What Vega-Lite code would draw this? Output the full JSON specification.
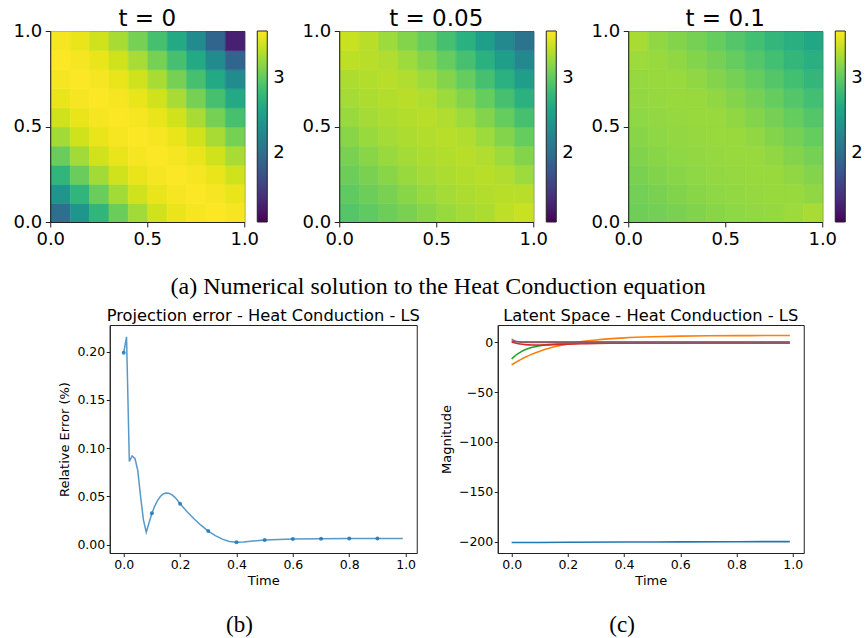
{
"$schema": "https://vega.github.io/schema/vega-lite/v6.json",
"background": "white",
"padding": {"left": 12, "top": 7, "right": 0, "bottom": 0},
"config": {
  "font": "DejaVu Sans",
  "view": {"stroke": "#222222", "strokeWidth": 1},
  "axis": {"grid": false, "domainColor": "#222222", "tickColor": "#222222", "labelColor": "black", "titleColor": "black", "labelFont": "DejaVu Sans", "titleFont": "DejaVu Sans", "titleFontWeight": "normal", "labelFlush": false, "labelOverlap": false, "labelAngle": 0},
  "title": {"font": "DejaVu Sans", "fontWeight": "normal", "color": "black"},
  "legend": {"labelFont": "DejaVu Sans", "labelColor": "black", "padding": 0}
},
"datasets": {
  "heat": [
{"p":0,"x":0,"y":0,"u":2.0},{"p":0,"x":0.1,"y":0,"u":2.4},{"p":0,"x":0.2,"y":0,"u":2.75},{"p":0,"x":0.3,"y":0,"u":3.05},{"p":0,"x":0.4,"y":0,"u":3.28},{"p":0,"x":0.5,"y":0,"u":3.45},{"p":0,"x":0.6,"y":0,"u":3.55},{"p":0,"x":0.7,"y":0,"u":3.6},{"p":0,"x":0.8,"y":0,"u":3.62},{"p":0,"x":0.9,"y":0,"u":3.6},
{"p":0,"x":0,"y":0.1,"u":2.4},{"p":0,"x":0.1,"y":0.1,"u":2.75},{"p":0,"x":0.2,"y":0.1,"u":3.05},{"p":0,"x":0.3,"y":0.1,"u":3.28},{"p":0,"x":0.4,"y":0.1,"u":3.45},{"p":0,"x":0.5,"y":0.1,"u":3.55},{"p":0,"x":0.6,"y":0.1,"u":3.6},{"p":0,"x":0.7,"y":0.1,"u":3.62},{"p":0,"x":0.8,"y":0.1,"u":3.6},{"p":0,"x":0.9,"y":0.1,"u":3.55},
{"p":0,"x":0,"y":0.2,"u":2.75},{"p":0,"x":0.1,"y":0.2,"u":3.05},{"p":0,"x":0.2,"y":0.2,"u":3.28},{"p":0,"x":0.3,"y":0.2,"u":3.45},{"p":0,"x":0.4,"y":0.2,"u":3.55},{"p":0,"x":0.5,"y":0.2,"u":3.6},{"p":0,"x":0.6,"y":0.2,"u":3.62},{"p":0,"x":0.7,"y":0.2,"u":3.6},{"p":0,"x":0.8,"y":0.2,"u":3.55},{"p":0,"x":0.9,"y":0.2,"u":3.45},
{"p":0,"x":0,"y":0.3,"u":3.05},{"p":0,"x":0.1,"y":0.3,"u":3.28},{"p":0,"x":0.2,"y":0.3,"u":3.45},{"p":0,"x":0.3,"y":0.3,"u":3.55},{"p":0,"x":0.4,"y":0.3,"u":3.6},{"p":0,"x":0.5,"y":0.3,"u":3.62},{"p":0,"x":0.6,"y":0.3,"u":3.6},{"p":0,"x":0.7,"y":0.3,"u":3.55},{"p":0,"x":0.8,"y":0.3,"u":3.45},{"p":0,"x":0.9,"y":0.3,"u":3.3},
{"p":0,"x":0,"y":0.4,"u":3.28},{"p":0,"x":0.1,"y":0.4,"u":3.45},{"p":0,"x":0.2,"y":0.4,"u":3.55},{"p":0,"x":0.3,"y":0.4,"u":3.6},{"p":0,"x":0.4,"y":0.4,"u":3.62},{"p":0,"x":0.5,"y":0.4,"u":3.6},{"p":0,"x":0.6,"y":0.4,"u":3.55},{"p":0,"x":0.7,"y":0.4,"u":3.45},{"p":0,"x":0.8,"y":0.4,"u":3.3},{"p":0,"x":0.9,"y":0.4,"u":3.1},
{"p":0,"x":0,"y":0.5,"u":3.45},{"p":0,"x":0.1,"y":0.5,"u":3.55},{"p":0,"x":0.2,"y":0.5,"u":3.6},{"p":0,"x":0.3,"y":0.5,"u":3.62},{"p":0,"x":0.4,"y":0.5,"u":3.6},{"p":0,"x":0.5,"y":0.5,"u":3.55},{"p":0,"x":0.6,"y":0.5,"u":3.45},{"p":0,"x":0.7,"y":0.5,"u":3.3},{"p":0,"x":0.8,"y":0.5,"u":3.1},{"p":0,"x":0.9,"y":0.5,"u":2.88},
{"p":0,"x":0,"y":0.6,"u":3.55},{"p":0,"x":0.1,"y":0.6,"u":3.6},{"p":0,"x":0.2,"y":0.6,"u":3.62},{"p":0,"x":0.3,"y":0.6,"u":3.6},{"p":0,"x":0.4,"y":0.6,"u":3.55},{"p":0,"x":0.5,"y":0.6,"u":3.45},{"p":0,"x":0.6,"y":0.6,"u":3.3},{"p":0,"x":0.7,"y":0.6,"u":3.1},{"p":0,"x":0.8,"y":0.6,"u":2.88},{"p":0,"x":0.9,"y":0.6,"u":2.62},
{"p":0,"x":0,"y":0.7,"u":3.6},{"p":0,"x":0.1,"y":0.7,"u":3.62},{"p":0,"x":0.2,"y":0.7,"u":3.6},{"p":0,"x":0.3,"y":0.7,"u":3.55},{"p":0,"x":0.4,"y":0.7,"u":3.45},{"p":0,"x":0.5,"y":0.7,"u":3.3},{"p":0,"x":0.6,"y":0.7,"u":3.1},{"p":0,"x":0.7,"y":0.7,"u":2.88},{"p":0,"x":0.8,"y":0.7,"u":2.62},{"p":0,"x":0.9,"y":0.7,"u":2.3},
{"p":0,"x":0,"y":0.8,"u":3.62},{"p":0,"x":0.1,"y":0.8,"u":3.6},{"p":0,"x":0.2,"y":0.8,"u":3.55},{"p":0,"x":0.3,"y":0.8,"u":3.45},{"p":0,"x":0.4,"y":0.8,"u":3.3},{"p":0,"x":0.5,"y":0.8,"u":3.1},{"p":0,"x":0.6,"y":0.8,"u":2.88},{"p":0,"x":0.7,"y":0.8,"u":2.62},{"p":0,"x":0.8,"y":0.8,"u":2.3},{"p":0,"x":0.9,"y":0.8,"u":1.9},
{"p":0,"x":0,"y":0.9,"u":3.6},{"p":0,"x":0.1,"y":0.9,"u":3.55},{"p":0,"x":0.2,"y":0.9,"u":3.45},{"p":0,"x":0.3,"y":0.9,"u":3.3},{"p":0,"x":0.4,"y":0.9,"u":3.1},{"p":0,"x":0.5,"y":0.9,"u":2.88},{"p":0,"x":0.6,"y":0.9,"u":2.62},{"p":0,"x":0.7,"y":0.9,"u":2.3},{"p":0,"x":0.8,"y":0.9,"u":1.9},{"p":0,"x":0.9,"y":0.9,"u":1.3},
{"p":1,"x":0,"y":0,"u":2.95},{"p":1,"x":0.1,"y":0,"u":3.0},{"p":1,"x":0.2,"y":0,"u":3.06},{"p":1,"x":0.3,"y":0,"u":3.12},{"p":1,"x":0.4,"y":0,"u":3.18},{"p":1,"x":0.5,"y":0,"u":3.24},{"p":1,"x":0.6,"y":0,"u":3.29},{"p":1,"x":0.7,"y":0,"u":3.32},{"p":1,"x":0.8,"y":0,"u":3.38},{"p":1,"x":0.9,"y":0,"u":3.42},
{"p":1,"x":0,"y":0.1,"u":3.0},{"p":1,"x":0.1,"y":0.1,"u":3.06},{"p":1,"x":0.2,"y":0.1,"u":3.12},{"p":1,"x":0.3,"y":0.1,"u":3.18},{"p":1,"x":0.4,"y":0.1,"u":3.24},{"p":1,"x":0.5,"y":0.1,"u":3.29},{"p":1,"x":0.6,"y":0.1,"u":3.32},{"p":1,"x":0.7,"y":0.1,"u":3.34},{"p":1,"x":0.8,"y":0.1,"u":3.36},{"p":1,"x":0.9,"y":0.1,"u":3.36},
{"p":1,"x":0,"y":0.2,"u":3.06},{"p":1,"x":0.1,"y":0.2,"u":3.12},{"p":1,"x":0.2,"y":0.2,"u":3.18},{"p":1,"x":0.3,"y":0.2,"u":3.24},{"p":1,"x":0.4,"y":0.2,"u":3.29},{"p":1,"x":0.5,"y":0.2,"u":3.32},{"p":1,"x":0.6,"y":0.2,"u":3.34},{"p":1,"x":0.7,"y":0.2,"u":3.36},{"p":1,"x":0.8,"y":0.2,"u":3.33},{"p":1,"x":0.9,"y":0.2,"u":3.26},
{"p":1,"x":0,"y":0.3,"u":3.12},{"p":1,"x":0.1,"y":0.3,"u":3.18},{"p":1,"x":0.2,"y":0.3,"u":3.24},{"p":1,"x":0.3,"y":0.3,"u":3.29},{"p":1,"x":0.4,"y":0.3,"u":3.32},{"p":1,"x":0.5,"y":0.3,"u":3.34},{"p":1,"x":0.6,"y":0.3,"u":3.36},{"p":1,"x":0.7,"y":0.3,"u":3.33},{"p":1,"x":0.8,"y":0.3,"u":3.26},{"p":1,"x":0.9,"y":0.3,"u":3.16},
{"p":1,"x":0,"y":0.4,"u":3.18},{"p":1,"x":0.1,"y":0.4,"u":3.24},{"p":1,"x":0.2,"y":0.4,"u":3.29},{"p":1,"x":0.3,"y":0.4,"u":3.32},{"p":1,"x":0.4,"y":0.4,"u":3.34},{"p":1,"x":0.5,"y":0.4,"u":3.36},{"p":1,"x":0.6,"y":0.4,"u":3.33},{"p":1,"x":0.7,"y":0.4,"u":3.26},{"p":1,"x":0.8,"y":0.4,"u":3.16},{"p":1,"x":0.9,"y":0.4,"u":3.03},
{"p":1,"x":0,"y":0.5,"u":3.24},{"p":1,"x":0.1,"y":0.5,"u":3.29},{"p":1,"x":0.2,"y":0.5,"u":3.32},{"p":1,"x":0.3,"y":0.5,"u":3.34},{"p":1,"x":0.4,"y":0.5,"u":3.36},{"p":1,"x":0.5,"y":0.5,"u":3.33},{"p":1,"x":0.6,"y":0.5,"u":3.26},{"p":1,"x":0.7,"y":0.5,"u":3.16},{"p":1,"x":0.8,"y":0.5,"u":3.03},{"p":1,"x":0.9,"y":0.5,"u":2.88},
{"p":1,"x":0,"y":0.6,"u":3.29},{"p":1,"x":0.1,"y":0.6,"u":3.32},{"p":1,"x":0.2,"y":0.6,"u":3.34},{"p":1,"x":0.3,"y":0.6,"u":3.36},{"p":1,"x":0.4,"y":0.6,"u":3.33},{"p":1,"x":0.5,"y":0.6,"u":3.26},{"p":1,"x":0.6,"y":0.6,"u":3.16},{"p":1,"x":0.7,"y":0.6,"u":3.03},{"p":1,"x":0.8,"y":0.6,"u":2.88},{"p":1,"x":0.9,"y":0.6,"u":2.7},
{"p":1,"x":0,"y":0.7,"u":3.32},{"p":1,"x":0.1,"y":0.7,"u":3.34},{"p":1,"x":0.2,"y":0.7,"u":3.36},{"p":1,"x":0.3,"y":0.7,"u":3.33},{"p":1,"x":0.4,"y":0.7,"u":3.26},{"p":1,"x":0.5,"y":0.7,"u":3.16},{"p":1,"x":0.6,"y":0.7,"u":3.03},{"p":1,"x":0.7,"y":0.7,"u":2.88},{"p":1,"x":0.8,"y":0.7,"u":2.7},{"p":1,"x":0.9,"y":0.7,"u":2.5},
{"p":1,"x":0,"y":0.8,"u":3.38},{"p":1,"x":0.1,"y":0.8,"u":3.36},{"p":1,"x":0.2,"y":0.8,"u":3.33},{"p":1,"x":0.3,"y":0.8,"u":3.26},{"p":1,"x":0.4,"y":0.8,"u":3.16},{"p":1,"x":0.5,"y":0.8,"u":3.03},{"p":1,"x":0.6,"y":0.8,"u":2.88},{"p":1,"x":0.7,"y":0.8,"u":2.7},{"p":1,"x":0.8,"y":0.8,"u":2.5},{"p":1,"x":0.9,"y":0.8,"u":2.28},
{"p":1,"x":0,"y":0.9,"u":3.42},{"p":1,"x":0.1,"y":0.9,"u":3.36},{"p":1,"x":0.2,"y":0.9,"u":3.26},{"p":1,"x":0.3,"y":0.9,"u":3.16},{"p":1,"x":0.4,"y":0.9,"u":3.03},{"p":1,"x":0.5,"y":0.9,"u":2.88},{"p":1,"x":0.6,"y":0.9,"u":2.7},{"p":1,"x":0.7,"y":0.9,"u":2.5},{"p":1,"x":0.8,"y":0.9,"u":2.28},{"p":1,"x":0.9,"y":0.9,"u":2.05},
{"p":2,"x":0,"y":0,"u":3.07},{"p":2,"x":0.1,"y":0,"u":3.09},{"p":2,"x":0.2,"y":0,"u":3.12},{"p":2,"x":0.3,"y":0,"u":3.15},{"p":2,"x":0.4,"y":0,"u":3.18},{"p":2,"x":0.5,"y":0,"u":3.2},{"p":2,"x":0.6,"y":0,"u":3.22},{"p":2,"x":0.7,"y":0,"u":3.23},{"p":2,"x":0.8,"y":0,"u":3.26},{"p":2,"x":0.9,"y":0,"u":3.3},
{"p":2,"x":0,"y":0.1,"u":3.09},{"p":2,"x":0.1,"y":0.1,"u":3.12},{"p":2,"x":0.2,"y":0.1,"u":3.15},{"p":2,"x":0.3,"y":0.1,"u":3.18},{"p":2,"x":0.4,"y":0.1,"u":3.2},{"p":2,"x":0.5,"y":0.1,"u":3.22},{"p":2,"x":0.6,"y":0.1,"u":3.23},{"p":2,"x":0.7,"y":0.1,"u":3.24},{"p":2,"x":0.8,"y":0.1,"u":3.24},{"p":2,"x":0.9,"y":0.1,"u":3.21},
{"p":2,"x":0,"y":0.2,"u":3.12},{"p":2,"x":0.1,"y":0.2,"u":3.15},{"p":2,"x":0.2,"y":0.2,"u":3.18},{"p":2,"x":0.3,"y":0.2,"u":3.2},{"p":2,"x":0.4,"y":0.2,"u":3.22},{"p":2,"x":0.5,"y":0.2,"u":3.23},{"p":2,"x":0.6,"y":0.2,"u":3.24},{"p":2,"x":0.7,"y":0.2,"u":3.24},{"p":2,"x":0.8,"y":0.2,"u":3.21},{"p":2,"x":0.9,"y":0.2,"u":3.16},
{"p":2,"x":0,"y":0.3,"u":3.15},{"p":2,"x":0.1,"y":0.3,"u":3.18},{"p":2,"x":0.2,"y":0.3,"u":3.2},{"p":2,"x":0.3,"y":0.3,"u":3.22},{"p":2,"x":0.4,"y":0.3,"u":3.23},{"p":2,"x":0.5,"y":0.3,"u":3.24},{"p":2,"x":0.6,"y":0.3,"u":3.24},{"p":2,"x":0.7,"y":0.3,"u":3.21},{"p":2,"x":0.8,"y":0.3,"u":3.16},{"p":2,"x":0.9,"y":0.3,"u":3.1},
{"p":2,"x":0,"y":0.4,"u":3.18},{"p":2,"x":0.1,"y":0.4,"u":3.2},{"p":2,"x":0.2,"y":0.4,"u":3.22},{"p":2,"x":0.3,"y":0.4,"u":3.23},{"p":2,"x":0.4,"y":0.4,"u":3.24},{"p":2,"x":0.5,"y":0.4,"u":3.24},{"p":2,"x":0.6,"y":0.4,"u":3.21},{"p":2,"x":0.7,"y":0.4,"u":3.16},{"p":2,"x":0.8,"y":0.4,"u":3.1},{"p":2,"x":0.9,"y":0.4,"u":3.03},
{"p":2,"x":0,"y":0.5,"u":3.2},{"p":2,"x":0.1,"y":0.5,"u":3.22},{"p":2,"x":0.2,"y":0.5,"u":3.23},{"p":2,"x":0.3,"y":0.5,"u":3.24},{"p":2,"x":0.4,"y":0.5,"u":3.24},{"p":2,"x":0.5,"y":0.5,"u":3.21},{"p":2,"x":0.6,"y":0.5,"u":3.16},{"p":2,"x":0.7,"y":0.5,"u":3.1},{"p":2,"x":0.8,"y":0.5,"u":3.03},{"p":2,"x":0.9,"y":0.5,"u":2.95},
{"p":2,"x":0,"y":0.6,"u":3.22},{"p":2,"x":0.1,"y":0.6,"u":3.23},{"p":2,"x":0.2,"y":0.6,"u":3.24},{"p":2,"x":0.3,"y":0.6,"u":3.24},{"p":2,"x":0.4,"y":0.6,"u":3.21},{"p":2,"x":0.5,"y":0.6,"u":3.16},{"p":2,"x":0.6,"y":0.6,"u":3.1},{"p":2,"x":0.7,"y":0.6,"u":3.03},{"p":2,"x":0.8,"y":0.6,"u":2.95},{"p":2,"x":0.9,"y":0.6,"u":2.86},
{"p":2,"x":0,"y":0.7,"u":3.23},{"p":2,"x":0.1,"y":0.7,"u":3.24},{"p":2,"x":0.2,"y":0.7,"u":3.24},{"p":2,"x":0.3,"y":0.7,"u":3.21},{"p":2,"x":0.4,"y":0.7,"u":3.16},{"p":2,"x":0.5,"y":0.7,"u":3.1},{"p":2,"x":0.6,"y":0.7,"u":3.03},{"p":2,"x":0.7,"y":0.7,"u":2.95},{"p":2,"x":0.8,"y":0.7,"u":2.86},{"p":2,"x":0.9,"y":0.7,"u":2.77},
{"p":2,"x":0,"y":0.8,"u":3.26},{"p":2,"x":0.1,"y":0.8,"u":3.24},{"p":2,"x":0.2,"y":0.8,"u":3.21},{"p":2,"x":0.3,"y":0.8,"u":3.16},{"p":2,"x":0.4,"y":0.8,"u":3.1},{"p":2,"x":0.5,"y":0.8,"u":3.03},{"p":2,"x":0.6,"y":0.8,"u":2.95},{"p":2,"x":0.7,"y":0.8,"u":2.86},{"p":2,"x":0.8,"y":0.8,"u":2.77},{"p":2,"x":0.9,"y":0.8,"u":2.68},
{"p":2,"x":0,"y":0.9,"u":3.3},{"p":2,"x":0.1,"y":0.9,"u":3.21},{"p":2,"x":0.2,"y":0.9,"u":3.16},{"p":2,"x":0.3,"y":0.9,"u":3.1},{"p":2,"x":0.4,"y":0.9,"u":3.03},{"p":2,"x":0.5,"y":0.9,"u":2.95},{"p":2,"x":0.6,"y":0.9,"u":2.86},{"p":2,"x":0.7,"y":0.9,"u":2.77},{"p":2,"x":0.8,"y":0.9,"u":2.68},{"p":2,"x":0.9,"y":0.9,"u":2.6}
  ],
  "err": [
{"t":0,"v":0.199},{"t":0.01,"v":0.2156},{"t":0.02,"v":0.0862},{"t":0.03,"v":0.092},{"t":0.04,"v":0.0893},{"t":0.05,"v":0.0767},{"t":0.06,"v":0.0495},{"t":0.07,"v":0.0256},{"t":0.08,"v":0.0127},{"t":0.09,"v":0.0225},{"t":0.1,"v":0.0324},{"t":0.11,"v":0.0398},{"t":0.12,"v":0.0455},{"t":0.13,"v":0.0498},{"t":0.14,"v":0.0524},{"t":0.15,"v":0.0535},{"t":0.16,"v":0.0532},{"t":0.17,"v":0.0518},{"t":0.18,"v":0.0495},{"t":0.19,"v":0.0462},{"t":0.2,"v":0.0423},{"t":0.225,"v":0.034},{"t":0.25,"v":0.0265},{"t":0.275,"v":0.0198},{"t":0.3,"v":0.014},{"t":0.325,"v":0.0093},{"t":0.35,"v":0.0056},{"t":0.375,"v":0.0032},{"t":0.4,"v":0.0024},{"t":0.425,"v":0.0026},{"t":0.45,"v":0.0033},{"t":0.5,"v":0.0046},{"t":0.55,"v":0.0053},{"t":0.6,"v":0.0058},{"t":0.7,"v":0.006},{"t":0.8,"v":0.0062},{"t":0.9,"v":0.0062},{"t":0.99,"v":0.0062}
  ],
  "errpts": [
{"t":0,"v":0.199},{"t":0.1,"v":0.0324},{"t":0.2,"v":0.0423},{"t":0.3,"v":0.014},{"t":0.4,"v":0.0024},{"t":0.5,"v":0.0046},{"t":0.6,"v":0.0058},{"t":0.7,"v":0.006},{"t":0.8,"v":0.0062},{"t":0.9,"v":0.0062}
  ],
  "lat": [
{"k":"z1","t":0,"v":-201},{"k":"z1","t":0.1,"v":-200.9},{"k":"z1","t":0.2,"v":-200.75},{"k":"z1","t":0.4,"v":-200.5},{"k":"z1","t":0.6,"v":-200.3},{"k":"z1","t":0.8,"v":-200.15},{"k":"z1","t":0.99,"v":-200.05},
{"k":"z2","t":0,"v":-22.5},{"k":"z2","t":0.01,"v":-20.7},{"k":"z2","t":0.02,"v":-19.0},{"k":"z2","t":0.03,"v":-17.5},{"k":"z2","t":0.05,"v":-14.6},{"k":"z2","t":0.07,"v":-12.0},{"k":"z2","t":0.1,"v":-8.8},{"k":"z2","t":0.13,"v":-6.1},{"k":"z2","t":0.16,"v":-3.85},{"k":"z2","t":0.2,"v":-1.45},{"k":"z2","t":0.25,"v":0.82},{"k":"z2","t":0.3,"v":2.47},{"k":"z2","t":0.4,"v":4.58},{"k":"z2","t":0.5,"v":5.7},{"k":"z2","t":0.6,"v":6.3},{"k":"z2","t":0.7,"v":6.63},{"k":"z2","t":0.8,"v":6.8},{"k":"z2","t":0.9,"v":6.9},{"k":"z2","t":0.99,"v":6.94},
{"k":"z3","t":0,"v":-16.7},{"k":"z3","t":0.01,"v":-14.0},{"k":"z3","t":0.02,"v":-11.8},{"k":"z3","t":0.03,"v":-10.0},{"k":"z3","t":0.05,"v":-7.15},{"k":"z3","t":0.07,"v":-5.2},{"k":"z3","t":0.1,"v":-3.3},{"k":"z3","t":0.13,"v":-2.2},{"k":"z3","t":0.16,"v":-1.57},{"k":"z3","t":0.2,"v":-1.12},{"k":"z3","t":0.25,"v":-0.87},{"k":"z3","t":0.3,"v":-0.77},{"k":"z3","t":0.4,"v":-0.72},{"k":"z3","t":0.6,"v":-0.7},{"k":"z3","t":0.99,"v":-0.7},
{"k":"z4","t":0,"v":0.5},{"k":"z4","t":0.01,"v":-0.3},{"k":"z4","t":0.02,"v":-1.0},{"k":"z4","t":0.03,"v":-1.5},{"k":"z4","t":0.05,"v":-2.2},{"k":"z4","t":0.07,"v":-2.6},{"k":"z4","t":0.1,"v":-2.7},{"k":"z4","t":0.13,"v":-2.5},{"k":"z4","t":0.16,"v":-2.2},{"k":"z4","t":0.2,"v":-1.8},{"k":"z4","t":0.25,"v":-1.4},{"k":"z4","t":0.3,"v":-1.1},{"k":"z4","t":0.4,"v":-0.7},{"k":"z4","t":0.5,"v":-0.5},{"k":"z4","t":0.7,"v":-0.4},{"k":"z4","t":0.99,"v":-0.4},
{"k":"z5","t":0,"v":3.3},{"k":"z5","t":0.01,"v":1.8},{"k":"z5","t":0.02,"v":0.9},{"k":"z5","t":0.03,"v":0.4},{"k":"z5","t":0.05,"v":0.1},{"k":"z5","t":0.07,"v":0},{"k":"z5","t":0.99,"v":0},
{"k":"z6","t":0,"v":1.5},{"k":"z6","t":0.01,"v":1.0},{"k":"z6","t":0.02,"v":0.7},{"k":"z6","t":0.05,"v":0.5},{"k":"z6","t":0.99,"v":0.4}
  ]
},
"vconcat": [
  {
    "title": {"text": "(a) Numerical solution to the Heat Conduction equation", "orient": "bottom", "anchor": "middle", "font": "Liberation Serif", "fontSize": 24, "offset": 26},
    "spacing": 15,
    "resolve": {"scale": {"color": "independent"}},
    "hconcat": [
      {
        "width": 194, "height": 191,
        "title": {"text": "t = 0", "fontSize": 23, "offset": -9},
        "data": {"name": "heat"},
        "transform": [{"filter": "datum.p == 0"}],
        "mark": {"type": "rect", "binSpacing": 0, "strokeWidth": 0.6},
        "encoding": {
          "x": {"field": "x", "type": "quantitative", "bin": {"binned": true, "step": 0.1}, "scale": {"domain": [0, 1]}, "axis": {"title": null, "values": [0, 0.5, 1], "format": ".1f", "labelFontSize": 18, "tickSize": 5, "labelPadding": 3.5}},
          "y": {"field": "y", "type": "quantitative", "bin": {"binned": true, "step": 0.1}, "scale": {"domain": [0, 1]}, "axis": {"title": null, "values": [0, 0.5, 1], "format": ".1f", "labelFontSize": 18, "tickSize": 5, "labelPadding": 3.5}},
          "color": {"field": "u", "type": "quantitative", "scale": {"scheme": "viridis", "domain": [1.08, 3.63], "zero": false}, "legend": {"title": null, "orient": "right", "offset": 13, "gradientLength": 191, "gradientThickness": 10, "labelFontSize": 18, "values": [2, 3], "labelOffset": 6, "gradientStrokeColor": "#222222", "gradientStrokeWidth": 1, "labelOverlap": false}},
          "stroke": {"field": "u", "type": "quantitative", "scale": {"scheme": "viridis", "domain": [1.08, 3.63], "zero": false}, "legend": null}
        }
      },
      {
        "width": 194, "height": 191,
        "title": {"text": "t = 0.05", "fontSize": 23, "offset": -9},
        "data": {"name": "heat"},
        "transform": [{"filter": "datum.p == 1"}],
        "mark": {"type": "rect", "binSpacing": 0, "strokeWidth": 0.6},
        "encoding": {
          "x": {"field": "x", "type": "quantitative", "bin": {"binned": true, "step": 0.1}, "scale": {"domain": [0, 1]}, "axis": {"title": null, "values": [0, 0.5, 1], "format": ".1f", "labelFontSize": 18, "tickSize": 5, "labelPadding": 3.5}},
          "y": {"field": "y", "type": "quantitative", "bin": {"binned": true, "step": 0.1}, "scale": {"domain": [0, 1]}, "axis": {"title": null, "values": [0, 0.5, 1], "format": ".1f", "labelFontSize": 18, "tickSize": 5, "labelPadding": 3.5}},
          "color": {"field": "u", "type": "quantitative", "scale": {"scheme": "viridis", "domain": [1.08, 3.63], "zero": false}, "legend": {"title": null, "orient": "right", "offset": 13, "gradientLength": 191, "gradientThickness": 10, "labelFontSize": 18, "values": [2, 3], "labelOffset": 6, "gradientStrokeColor": "#222222", "gradientStrokeWidth": 1, "labelOverlap": false}},
          "stroke": {"field": "u", "type": "quantitative", "scale": {"scheme": "viridis", "domain": [1.08, 3.63], "zero": false}, "legend": null}
        }
      },
      {
        "width": 194, "height": 191,
        "title": {"text": "t = 0.1", "fontSize": 23, "offset": -9},
        "data": {"name": "heat"},
        "transform": [{"filter": "datum.p == 2"}],
        "mark": {"type": "rect", "binSpacing": 0, "strokeWidth": 0.6},
        "encoding": {
          "x": {"field": "x", "type": "quantitative", "bin": {"binned": true, "step": 0.1}, "scale": {"domain": [0, 1]}, "axis": {"title": null, "values": [0, 0.5, 1], "format": ".1f", "labelFontSize": 18, "tickSize": 5, "labelPadding": 3.5}},
          "y": {"field": "y", "type": "quantitative", "bin": {"binned": true, "step": 0.1}, "scale": {"domain": [0, 1]}, "axis": {"title": null, "values": [0, 0.5, 1], "format": ".1f", "labelFontSize": 18, "tickSize": 5, "labelPadding": 3.5}},
          "color": {"field": "u", "type": "quantitative", "scale": {"scheme": "viridis", "domain": [1.08, 3.63], "zero": false}, "legend": {"title": null, "orient": "right", "offset": 13, "gradientLength": 191, "gradientThickness": 10, "labelFontSize": 18, "values": [2, 3], "labelOffset": 6, "gradientStrokeColor": "#222222", "gradientStrokeWidth": 1, "labelOverlap": false}},
          "stroke": {"field": "u", "type": "quantitative", "scale": {"scheme": "viridis", "domain": [1.08, 3.63], "zero": false}, "legend": null}
        }
      }
    ]
  },
  {
    "spacing": 19,
    "hconcat": [
      {
        "title": {"text": "(b)", "orient": "bottom", "anchor": "middle", "font": "Liberation Serif", "fontSize": 23, "offset": 26},
        "vconcat": [
          {
            "width": 307, "height": 228,
            "title": {"text": "Projection error - Heat Conduction - LS", "fontSize": 16.3, "offset": 1},
            "layer": [
              {
                "data": {"name": "err"},
                "mark": {"type": "line", "color": "#1f77b4", "opacity": 0.75, "strokeWidth": 1.5},
                "encoding": {
                  "x": {"field": "t", "type": "quantitative", "scale": {"domain": [-0.0495, 1.0395], "nice": false, "zero": false}, "axis": {"title": "Time", "values": [0, 0.2, 0.4, 0.6, 0.8, 1.0], "format": ".1f", "labelFontSize": 12.5, "titleFontSize": 13, "tickSize": 3.5, "labelPadding": 1.5, "titlePadding": 4}},
                  "y": {"field": "v", "type": "quantitative", "scale": {"domain": [-0.0088, 0.2278], "nice": false, "zero": false}, "axis": {"title": "Relative Error (%)", "values": [0, 0.05, 0.1, 0.15, 0.2], "format": ".2f", "labelFontSize": 12.5, "titleFontSize": 13, "tickSize": 3.5, "labelPadding": 1.5, "titlePadding": 5}}
                }
              },
              {
                "data": {"name": "errpts"},
                "mark": {"type": "point", "filled": true, "color": "#1f77b4", "size": 16, "opacity": 0.85},
                "encoding": {
                  "x": {"field": "t", "type": "quantitative"},
                  "y": {"field": "v", "type": "quantitative"}
                }
              }
            ]
          }
        ]
      },
      {
        "title": {"text": "(c)", "orient": "bottom", "anchor": "middle", "font": "Liberation Serif", "fontSize": 23, "offset": 26},
        "vconcat": [
          {
            "width": 306, "height": 228,
            "title": {"text": "Latent Space - Heat Conduction - LS", "fontSize": 16.3, "offset": 1},
            "data": {"name": "lat"},
            "mark": {"type": "line", "strokeWidth": 1.6, "interpolate": "monotone"},
            "encoding": {
              "x": {"field": "t", "type": "quantitative", "scale": {"domain": [-0.0495, 1.0395], "nice": false, "zero": false}, "axis": {"title": "Time", "values": [0, 0.2, 0.4, 0.6, 0.8, 1.0], "format": ".1f", "labelFontSize": 12.5, "titleFontSize": 13, "tickSize": 3.5, "labelPadding": 1.5, "titlePadding": 4}},
              "y": {"field": "v", "type": "quantitative", "scale": {"domain": [-211.5, 17.5], "nice": false, "zero": false}, "axis": {"title": "Magnitude", "values": [0, -50, -100, -150, -200], "labelFontSize": 12.5, "titleFontSize": 13, "tickSize": 3.5, "labelPadding": 1.5, "titlePadding": 5}},
              "color": {"field": "k", "type": "nominal", "scale": {"domain": ["z1", "z2", "z3", "z4", "z5", "z6"], "range": ["#1f77b4", "#ff7f0e", "#2ca02c", "#d62728", "#9467bd", "#8c564b"]}, "legend": null}
            }
          }
        ]
      }
    ]
  }
],
"spacing": 8,
"center": true
}
